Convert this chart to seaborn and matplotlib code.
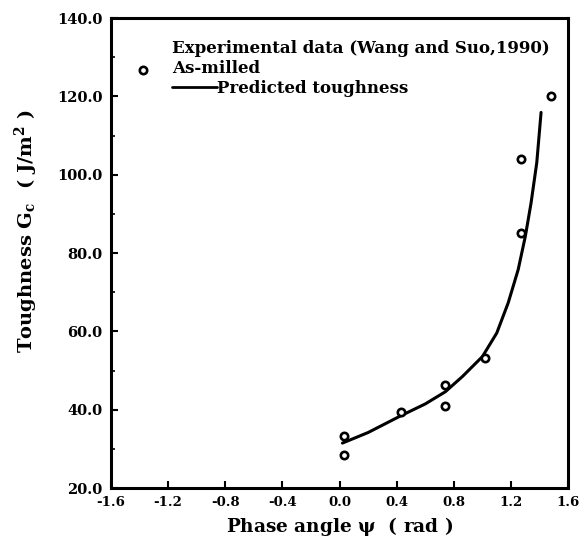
import matplotlib
matplotlib.use("Agg")
import matplotlib.pyplot as plt
import seaborn as sns
import pandas as pd

# Experimental data (As-milled)
exp_psi = [0.03, 0.03, 0.43, 0.74, 0.74, 1.02, 1.27, 1.27, 1.48]
exp_gc = [33.2, 28.4, 39.4, 46.2, 41.0, 53.2, 104.0, 85.2, 120.2]

pred_psi = [0.02, 0.20, 0.43, 0.60, 0.74, 0.86, 1.00, 1.10, 1.18, 1.25, 1.30, 1.34, 1.38, 1.41]
pred_gc = [31.5, 34.2, 38.5, 41.5, 44.6, 48.5, 53.6, 59.6, 67.3, 75.8, 84.3, 92.8, 103.1, 115.9]

x_ticks = [-1.6, -1.2, -0.8, -0.4, 0.0, 0.4, 0.8, 1.2, 1.6]
x_tick_labels = ["-1.6", "-1.2", "-0.8", "-0.4", "0.0", "0.4", "0.8", "1.2", "1.6"]
y_ticks = [20, 40, 60, 80, 100, 120, 140]
y_tick_labels = ["20.0", "40.0", "60.0", "80.0", "100.0", "120.0", "140.0"]

sns.set_style("ticks")
plt.rcParams["font.family"] = ["DejaVu Serif"]
plt.rcParams["mathtext.fontset"] = "dejavuserif"
for key in ["text.color", "axes.labelcolor", "xtick.color", "ytick.color", "axes.edgecolor"]:
    plt.rcParams[key] = "black"

fig = plt.figure(figsize=(5.81, 5.46), dpi=100)
ax = fig.add_axes([0.191, 0.106, 0.787, 0.861])

df_exp = pd.DataFrame({"psi": exp_psi, "gc": exp_gc})
df_pred = pd.DataFrame({"psi": pred_psi, "gc": pred_gc})

sns.lineplot(data=df_pred, x="psi", y="gc", ax=ax, color="black", lw=2.2, sort=False)
sns.scatterplot(data=df_exp, x="psi", y="gc", ax=ax, marker="o", s=28,
                facecolor="white", edgecolor="black", linewidth=1.9, zorder=3)

ax.set_xlim(-1.6, 1.6)
ax.set_ylim(20, 140)
ax.set_xticks(x_ticks)
ax.set_xticklabels(x_tick_labels, fontweight="bold", fontsize=9.5)
ax.set_yticks(y_ticks)
ax.set_yticklabels(y_tick_labels, fontweight="bold", fontsize=10.5)
ax.set_yticks([30, 50, 70, 90, 110, 130], minor=True)
ax.tick_params(direction="in", length=5, width=1.5, which="major", pad=6)
ax.tick_params(axis="x", which="major", pad=6)
ax.tick_params(direction="in", length=3, width=1.2, which="minor")
for sp in ax.spines.values():
    sp.set_linewidth(2.2)
    sp.set_visible(True)

ax.set_xlabel(r"Phase angle $\mathbf{\psi}$  ( rad )", fontsize=13.3, fontweight="bold")
ax.xaxis.set_label_coords(0.5, -0.058)
ax.set_ylabel(r"Toughness G$_\mathbf{c}$  ( J/m$^\mathbf{2}$ )", fontsize=14, fontweight="bold")
ax.yaxis.set_label_coords(-0.155, 0.547)

# Legend drawn as in the original
ax.text(-1.173, 132.3, "Experimental data (Wang and Suo,1990)", fontsize=12, fontweight="bold", va="center")
ax.scatter([-1.376], [126.7], marker="o", s=28, facecolor="white", edgecolor="black", linewidth=1.9)
ax.text(-1.173, 127.0, "As-milled", fontsize=12, fontweight="bold", va="center")
ax.plot([-1.173, -0.86], [122.3, 122.3], color="black", lw=2)
ax.text(-0.86, 122.1, "Predicted toughness", fontsize=12, fontweight="bold", va="center")

fig.savefig("out.png", dpi=100)
